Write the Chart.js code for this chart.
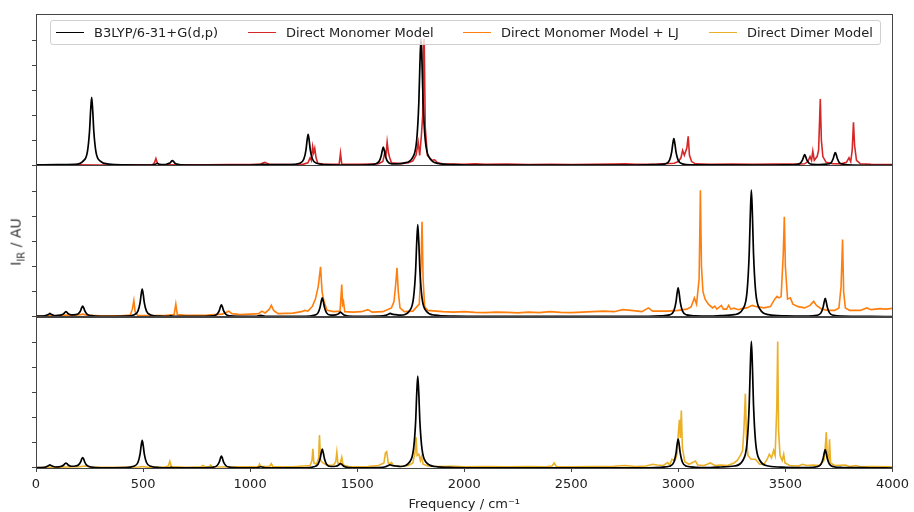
<!DOCTYPE html>
<html>
<head>
<meta charset="utf-8">
<script src="https://cdn.jsdelivr.net/npm/chart.js@4.4.1/dist/chart.umd.min.js"></script>
<style>
  body { margin: 0; background: #fff; font-family: 'DejaVu Sans', sans-serif; }
  #wrap { position: relative; width: 914px; height: 512px; }
  #legend { position: absolute; left: 50px; top: 20px; width: 829px; height: 23px;
            border: 1px solid #d0d0d0; border-radius: 3px; background: rgba(255,255,255,0.8);
            font-size: 13px; color: #222; }
  .item { position: absolute; top: 3px; white-space: nowrap; line-height: 17px; }
  .swatch { display: inline-block; width: 28px; height: 0; border-top: 1.5px solid;
            vertical-align: middle; margin-right: 10px; margin-top: -2px; }
  #ylab { position: absolute; left: 17px; top: 242px; font-size: 14px; font-weight: normal; color: #333;
          transform: translate(-50%, -50%) rotate(-90deg); white-space: nowrap; }
  #ylab sub { font-size: 10px; }
</style>
</head>
<body>
<div id="wrap">
  <canvas id="irChart" width="914" height="512"></canvas>
  <div id="legend"></div>
  <div id="ylab">I<sub>IR</sub> / AU</div>
</div>
<script>
const seriesNames = ['B3LYP/6-31+G(d,p)', 'Direct Monomer Model', 'Direct Monomer Model + LJ', 'Direct Dimer Model'];
const freqTicks = [0, 500, 1000, 1500, 2000, 2500, 3000, 3500, 4000];
const panelTicks = [0, 1, 2, 3, 4, 5];

// [frequency / cm-1, intensity]
const monomerRef = [
  [0,0.02],[100,0.03],[180,0.04],[220,0.17],[240,0.54],[250,1.36],[255,2.17],[260,2.71],[265,2.17],[270,1.36],[280,0.54],[300,0.17],[340,0.05],[420,0.02],
  [540,0.01],[557,0.04],[567,0.08],[577,0.04],[600,0.03],[617,0.07],[627,0.1],[632,0.16],[637,0.19],[642,0.16],[647,0.1],[657,0.05],[700,0.01],
  [1000,0.01],[1050,0.03],[1060,0.04],[1070,0.03],[1150,0.03],
  [1191,0.03],[1231,0.08],[1251,0.25],[1261,0.62],[1266,0.99],[1271,1.24],[1276,0.99],[1281,0.62],[1291,0.25],[1311,0.08],[1351,0.03],
  [1500,0.01],[1582,0.05],[1602,0.15],[1612,0.37],[1617,0.58],[1622,0.73],[1627,0.58],[1632,0.37],[1642,0.15],[1662,0.06],[1700,0.07],
  [1718,0.09],[1758,0.3],[1778,1.01],[1788,2.52],[1793,4.04],[1798,5.05],[1803,4.04],[1808,2.52],[1818,1.01],[1838,0.3],[1878,0.08],[1950,0.03],[2100,0.01],
  [2800,0.01],[2899,0.03],[2939,0.06],[2959,0.21],[2969,0.54],[2974,0.86],[2979,1.07],[2984,0.86],[2989,0.54],[2999,0.21],[3019,0.06],[3059,0.02],
  [3450,0.01],[3510,0.02],[3550,0.03],[3570,0.09],[3580,0.22],[3585,0.34],[3590,0.43],[3595,0.34],[3600,0.22],[3610,0.09],[3630,0.04],[3660,0.03],
  [3693,0.05],[3713,0.1],[3723,0.26],[3728,0.41],[3733,0.51],[3738,0.41],[3743,0.26],[3753,0.1],[3773,0.04],[3813,0.01],[4000,0]
];

const dimerRef = [
  [0,0.02],[40,0.03],[55,0.08],[60,0.1],[65,0.13],[70,0.1],[75,0.08],[90,0.04],[115,0.06],[130,0.12],[135,0.17],[140,0.2],[145,0.17],[150,0.12],
  [165,0.07],[185,0.08],[198,0.12],[208,0.23],[213,0.35],[218,0.42],[223,0.35],[228,0.23],[238,0.1],[258,0.04],[300,0.01],
  [416,0.02],[456,0.07],[476,0.22],[486,0.55],[491,0.88],[496,1.1],[501,0.88],[506,0.55],[516,0.22],[536,0.07],[576,0.02],[620,0.01],[630,0.03],[640,0.01],
  [786,0.01],[826,0.03],[846,0.1],[856,0.24],[861,0.38],[866,0.47],[871,0.38],[876,0.24],[886,0.1],[906,0.03],[946,0.01],
  [1030,0.01],[1050,0.05],[1070,0.01],
  [1257,0.01],[1297,0.05],[1317,0.15],[1327,0.38],[1332,0.6],[1337,0.75],[1342,0.6],[1347,0.38],[1357,0.15],[1377,0.06],[1400,0.07],
  [1412,0.11],[1417,0.15],[1422,0.18],[1427,0.15],[1432,0.11],[1442,0.05],[1480,0.01],
  [1600,0.02],[1633,0.05],[1643,0.09],[1648,0.11],[1653,0.13],[1658,0.12],[1663,0.1],[1680,0.08],[1703,0.06],
  [1743,0.22],[1763,0.74],[1773,1.84],[1778,2.94],[1783,3.67],[1788,2.94],[1793,1.84],[1803,0.74],[1823,0.22],[1863,0.06],[1950,0.02],[2100,0.01],
  [2800,0.01],[2919,0.03],[2959,0.07],[2979,0.23],[2989,0.58],[2994,0.92],[2999,1.15],[3004,0.92],[3009,0.58],[3019,0.23],[3039,0.07],[3079,0.03],
  [3150,0.02],[3200,0.04],[3261,0.08],[3301,0.3],[3321,1.01],[3331,2.53],[3336,4.04],[3341,5.05],[3346,4.04],[3351,2.53],[3361,1.01],[3381,0.3],[3421,0.08],[3500,0.03],
  [3606,0.02],[3646,0.05],[3666,0.15],[3676,0.37],[3681,0.58],[3686,0.73],[3691,0.58],[3696,0.37],[3706,0.15],[3726,0.05],[3766,0.02],[3900,0.01],[4000,0]
];

const directMonomer = [
  [0,0.01],[100,0.01],[200,0.02],[300,0.01],[400,0.02],[500,0.02],[545,0.03],[553,0.1],[560,0.27],[567,0.08],[575,0.03],[650,0.02],[700,0.02],
  [800,0.02],[900,0.03],[1000,0.03],[1050,0.05],[1062,0.1],[1070,0.12],[1078,0.08],[1090,0.04],[1150,0.03],[1200,0.03],[1250,0.05],
  [1270,0.1],[1280,0.3],[1286,0.2],[1292,0.75],[1297,0.5],[1302,0.68],[1308,0.3],[1316,0.08],[1340,0.05],[1400,0.04],[1416,0.05],[1422,0.49],[1428,0.05],
  [1450,0.04],[1500,0.04],[1560,0.05],[1600,0.06],[1620,0.15],[1630,0.55],[1635,0.45],[1640,0.93],[1646,0.5],[1652,0.3],[1660,0.1],[1700,0.07],
  [1740,0.1],[1760,0.18],[1775,0.4],[1785,0.92],[1792,0.4],[1800,1.2],[1806,2.0],[1809,4.8],[1813,5.05],[1818,1.5],[1828,0.4],[1838,0.3],[1850,0.2],
  [1862,0.22],[1875,0.1],[1900,0.06],[1950,0.05],[2000,0.04],[2050,0.06],[2100,0.04],[2200,0.05],[2300,0.03],[2400,0.04],[2500,0.03],[2600,0.04],
  [2700,0.05],[2750,0.06],[2800,0.04],[2900,0.05],[2980,0.08],[3000,0.15],[3012,0.3],[3020,0.6],[3028,0.4],[3040,0.7],[3046,1.16],[3052,0.4],[3062,0.15],
  [3080,0.06],[3150,0.04],[3250,0.05],[3350,0.04],[3450,0.05],[3550,0.05],[3590,0.06],[3605,0.15],[3615,0.35],[3622,0.2],[3628,0.57],[3635,0.2],
  [3648,0.35],[3655,0.6],[3663,2.65],[3668,1.0],[3675,0.35],[3690,0.12],[3720,0.07],[3760,0.06],[3785,0.12],[3797,0.3],[3805,0.15],[3812,0.6],
  [3818,1.72],[3823,0.8],[3832,0.2],[3850,0.06],[3900,0.04],[4000,0.03]
];

const directMonomerLJ = [
  [0,0.02],[50,0.03],[100,0.04],[150,0.06],[200,0.07],[218,0.1],[240,0.05],[300,0.03],[400,0.03],[440,0.06],[450,0.3],[457,0.64],[463,0.2],[475,0.05],
  [550,0.04],[600,0.04],[645,0.08],[653,0.5],[660,0.08],[700,0.05],[800,0.06],[870,0.1],[900,0.22],[915,0.12],[950,0.08],[1000,0.1],[1040,0.12],
  [1055,0.22],[1070,0.15],[1090,0.3],[1099,0.45],[1110,0.25],[1130,0.12],[1200,0.14],[1240,0.2],[1255,0.25],[1270,0.22],[1290,0.4],[1305,0.7],
  [1318,1.2],[1329,1.99],[1336,1.0],[1345,0.6],[1360,0.25],[1390,0.2],[1420,0.22],[1428,1.28],[1432,0.5],[1436,0.6],[1442,0.2],[1480,0.18],
  [1520,0.2],[1550,0.28],[1570,0.18],[1620,0.2],[1660,0.35],[1672,0.6],[1680,1.3],[1686,1.95],[1692,1.0],[1700,0.35],[1720,0.2],[1760,0.22],
  [1790,0.5],[1798,2.0],[1803,3.79],[1808,1.5],[1815,0.4],[1830,0.25],[1870,0.22],[1900,0.2],[1950,0.18],[2000,0.2],[2050,0.17],[2100,0.16],
  [2150,0.18],[2200,0.17],[2250,0.15],[2300,0.18],[2350,0.16],[2400,0.2],[2450,0.17],[2500,0.16],[2550,0.18],[2600,0.2],[2650,0.22],[2700,0.2],
  [2740,0.28],[2780,0.25],[2830,0.2],[2860,0.35],[2880,0.22],[2950,0.22],[3000,0.25],[3040,0.3],[3060,0.4],[3075,0.75],[3085,0.5],[3097,1.5],
  [3103,5.05],[3108,2.0],[3115,1.0],[3125,0.7],[3140,0.5],[3160,0.35],[3170,0.42],[3180,0.3],[3201,0.45],[3210,0.3],[3225,0.3],[3235,0.45],[3245,0.3],
  [3260,0.34],[3280,0.28],[3300,0.33],[3320,0.35],[3345,0.45],[3365,0.4],[3400,0.35],[3430,0.4],[3450,0.7],[3461,0.81],[3470,0.75],[3480,0.8],[3490,2.5],[3495,3.99],
  [3500,2.0],[3510,0.7],[3523,0.75],[3535,0.5],[3560,0.4],[3590,0.35],[3615,0.45],[3632,0.61],[3645,0.45],[3670,0.3],[3700,0.25],[3730,0.25],
  [3750,0.35],[3760,1.2],[3767,3.08],[3772,1.0],[3780,0.35],[3800,0.25],[3850,0.25],[3880,0.35],[3900,0.28],[3940,0.32],[3970,0.3],[4000,0.33]
];

const directDimer = [
  [0,0.02],[100,0.03],[200,0.05],[230,0.08],[260,0.03],[400,0.03],[480,0.04],[500,0.06],[520,0.03],[600,0.04],[618,0.08],[625,0.27],[632,0.06],
  [700,0.03],[770,0.05],[780,0.1],[790,0.04],[810,0.06],[816,0.12],[822,0.05],[900,0.04],[950,0.05],[1000,0.05],[1040,0.06],[1044,0.16],[1050,0.06],
  [1092,0.06],[1099,0.17],[1106,0.06],[1150,0.05],[1200,0.05],[1250,0.08],[1280,0.1],[1289,0.3],[1293,0.77],[1298,0.2],[1310,0.15],[1320,0.4],
  [1324,1.32],[1329,0.3],[1340,0.2],[1360,0.1],[1390,0.12],[1400,0.25],[1405,0.63],[1410,0.2],[1420,0.15],[1428,0.43],[1434,0.12],[1460,0.06],
  [1500,0.05],[1550,0.06],[1600,0.1],[1625,0.2],[1632,0.6],[1638,0.65],[1645,0.2],[1655,0.18],[1660,0.22],[1670,0.1],[1700,0.06],[1740,0.1],
  [1760,0.2],[1770,0.6],[1775,1.23],[1780,0.5],[1788,0.55],[1795,0.3],[1800,0.45],[1808,0.15],[1830,0.08],[1880,0.06],[1950,0.07],[2000,0.05],
  [2100,0.06],[2200,0.05],[2300,0.06],[2380,0.05],[2410,0.08],[2420,0.2],[2430,0.06],[2500,0.05],[2600,0.06],[2700,0.07],[2750,0.1],[2800,0.06],
  [2850,0.08],[2880,0.15],[2900,0.12],[2930,0.1],[2950,0.22],[2960,0.12],[2970,0.35],[2985,0.3],[2995,0.6],[3000,1.4],[3005,1.92],[3009,1.2],
  [3014,2.29],[3019,0.8],[3030,0.25],[3050,0.15],[3080,0.28],[3090,0.12],[3120,0.1],[3150,0.2],[3170,0.1],[3200,0.12],[3230,0.1],[3260,0.2],
  [3275,0.3],[3290,0.5],[3300,0.7],[3306,1.5],[3313,2.96],[3318,1.2],[3325,0.5],[3340,0.35],[3360,0.35],[3380,0.15],[3400,0.15],[3415,0.35],
  [3425,0.55],[3435,0.4],[3445,0.7],[3452,0.5],[3460,2.5],[3464,5.05],[3468,1.5],[3475,0.5],[3485,0.3],[3492,0.55],[3498,0.2],[3520,0.1],
  [3560,0.08],[3580,0.15],[3600,0.1],[3630,0.12],[3660,0.1],[3680,0.3],[3686,0.8],[3691,1.43],[3696,0.4],[3702,0.3],[3706,1.15],[3711,0.2],
  [3730,0.1],[3780,0.12],[3800,0.06],[3830,0.1],[3850,0.05],[3900,0.06],[4000,0.05]
];

const colors = ['#000000', '#d62728', '#ff7f0e', '#ebb025'];
const toXY = pts => pts.map(([x, y]) => ({ x, y }));

// legend drawn in HTML, like the matplotlib box inside the top panel
const legendEl = document.getElementById('legend');
const legendLeft = [5, 197, 412, 658];
seriesNames.forEach((name, i) => {
  const d = document.createElement('div');
  d.className = 'item';
  d.style.left = legendLeft[i] + 'px';
  d.innerHTML = '<span class="swatch" style="border-color:' + colors[i] + '"></span>' + name;
  legendEl.appendChild(d);
});

const refLine = (data, axis) => ({
  label: seriesNames[0], data: toXY(data), yAxisID: axis,
  borderColor: colors[0], borderWidth: 1.7, pointRadius: 0, cubicInterpolationMode: 'monotone'
});
const simLine = (data, axis, c) => ({
  label: seriesNames[c], data: toXY(data), yAxisID: axis,
  borderColor: colors[c], borderWidth: 1.6, pointRadius: 0, tension: 0
});

const panelAxis = () => ({
  type: 'linear', position: 'left', stack: 'panels', stackWeight: 1,
  min: 0, max: 6.04,
  afterBuildTicks: s => { s.ticks = panelTicks.map(v => ({ value: v })); },
  afterFit: s => { s.width = 36; },
  ticks: { display: false },
  grid: { drawOnChartArea: false, drawTicks: true, tickLength: 4, color: '#444' },
  border: { display: false }
});

const panelFrames = {
  id: 'panelFrames',
  afterDraw(chart) {
    const { ctx, chartArea } = chart;
    ctx.save();
    ctx.strokeStyle = '#444';
    ctx.lineWidth = 1;
    ['yTop', 'yMid', 'yBot'].forEach(id => {
      const s = chart.scales[id];
      ctx.strokeRect(Math.round(chartArea.left) + 0.5, Math.round(s.top) + 0.5,
        Math.round(chartArea.right - chartArea.left), Math.round(s.bottom - s.top));
    });
    ctx.restore();
  }
};

Chart.defaults.font.family = "'DejaVu Sans', sans-serif";
Chart.defaults.font.size = 13;
Chart.defaults.color = '#222';

new Chart(document.getElementById('irChart'), {
  type: 'line',
  data: {
    datasets: [
      refLine(monomerRef, 'yTop'),
      refLine(dimerRef, 'yMid'),
      refLine(dimerRef, 'yBot'),
      simLine(directMonomer, 'yTop', 1),
      simLine(directMonomerLJ, 'yMid', 2),
      simLine(directDimer, 'yBot', 3)
    ]
  },
  options: {
    responsive: false,
    animation: false,
    events: [],
    layout: { padding: { left: 0, right: 20, top: 14, bottom: 0 } },
    plugins: { legend: { display: false }, tooltip: { enabled: false } },
    scales: {
      x: {
        type: 'linear', position: 'bottom', min: 0, max: 4000,
        afterBuildTicks: s => { s.ticks = freqTicks.map(v => ({ value: v })); },
        afterFit: s => { s.height = 44; },
        ticks: { padding: 5, maxRotation: 0, callback: v => String(v) },
        grid: { drawOnChartArea: false, drawTicks: true, tickLength: 4, color: '#444' },
        border: { display: false },
        title: { display: true, text: 'Frequency / cm\u207B\u00B9', padding: { top: 0, bottom: 0 } }
      },
      // stacked panels: the last axis listed is placed on top
      yBot: panelAxis(),
      yMid: panelAxis(),
      yTop: panelAxis()
    }
  },
  plugins: [panelFrames]
});
</script>
</body>
</html>
